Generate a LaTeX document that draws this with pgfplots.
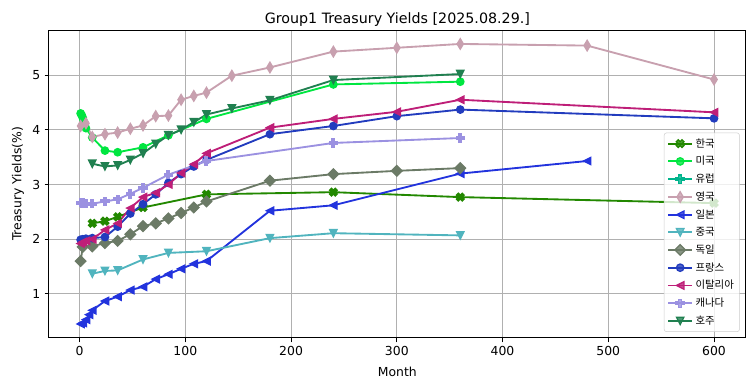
\documentclass[border=0pt]{standalone}
\usepackage{fontspec}
\setmainfont{DejaVu Sans}
\newfontfamily\kr{Noto Sans CJK KR}
\usepackage{pgfplots}
\pgfplotsset{compat=1.18}

\pgfdeclareplotmark{mP}{%
  \pgfpathmoveto{\pgfpoint{-\pgfplotmarksize}{-0.34\pgfplotmarksize}}%
  \pgfpathlineto{\pgfpoint{-0.34\pgfplotmarksize}{-0.34\pgfplotmarksize}}%
  \pgfpathlineto{\pgfpoint{-0.34\pgfplotmarksize}{-\pgfplotmarksize}}%
  \pgfpathlineto{\pgfpoint{0.34\pgfplotmarksize}{-\pgfplotmarksize}}%
  \pgfpathlineto{\pgfpoint{0.34\pgfplotmarksize}{-0.34\pgfplotmarksize}}%
  \pgfpathlineto{\pgfpoint{\pgfplotmarksize}{-0.34\pgfplotmarksize}}%
  \pgfpathlineto{\pgfpoint{\pgfplotmarksize}{0.34\pgfplotmarksize}}%
  \pgfpathlineto{\pgfpoint{0.34\pgfplotmarksize}{0.34\pgfplotmarksize}}%
  \pgfpathlineto{\pgfpoint{0.34\pgfplotmarksize}{\pgfplotmarksize}}%
  \pgfpathlineto{\pgfpoint{-0.34\pgfplotmarksize}{\pgfplotmarksize}}%
  \pgfpathlineto{\pgfpoint{-0.34\pgfplotmarksize}{0.34\pgfplotmarksize}}%
  \pgfpathlineto{\pgfpoint{-\pgfplotmarksize}{0.34\pgfplotmarksize}}%
  \pgfpathclose\pgfusepathqfillstroke}
\pgfdeclareplotmark{mX}{%
  \pgftransformrotate{45}%
  \pgfpathmoveto{\pgfpoint{-\pgfplotmarksize}{-0.34\pgfplotmarksize}}%
  \pgfpathlineto{\pgfpoint{-0.34\pgfplotmarksize}{-0.34\pgfplotmarksize}}%
  \pgfpathlineto{\pgfpoint{-0.34\pgfplotmarksize}{-\pgfplotmarksize}}%
  \pgfpathlineto{\pgfpoint{0.34\pgfplotmarksize}{-\pgfplotmarksize}}%
  \pgfpathlineto{\pgfpoint{0.34\pgfplotmarksize}{-0.34\pgfplotmarksize}}%
  \pgfpathlineto{\pgfpoint{\pgfplotmarksize}{-0.34\pgfplotmarksize}}%
  \pgfpathlineto{\pgfpoint{\pgfplotmarksize}{0.34\pgfplotmarksize}}%
  \pgfpathlineto{\pgfpoint{0.34\pgfplotmarksize}{0.34\pgfplotmarksize}}%
  \pgfpathlineto{\pgfpoint{0.34\pgfplotmarksize}{\pgfplotmarksize}}%
  \pgfpathlineto{\pgfpoint{-0.34\pgfplotmarksize}{\pgfplotmarksize}}%
  \pgfpathlineto{\pgfpoint{-0.34\pgfplotmarksize}{0.34\pgfplotmarksize}}%
  \pgfpathlineto{\pgfpoint{-\pgfplotmarksize}{0.34\pgfplotmarksize}}%
  \pgfpathclose\pgfusepathqfillstroke}
\pgfdeclareplotmark{mDia}{%
  \pgfpathmoveto{\pgfpoint{0pt}{\pgfplotmarksize}}%
  \pgfpathlineto{\pgfpoint{\pgfplotmarksize}{0pt}}%
  \pgfpathlineto{\pgfpoint{0pt}{-\pgfplotmarksize}}%
  \pgfpathlineto{\pgfpoint{-\pgfplotmarksize}{0pt}}%
  \pgfpathclose\pgfusepathqfillstroke}
\pgfdeclareplotmark{mThin}{%
  \pgfpathmoveto{\pgfpoint{0pt}{\pgfplotmarksize}}%
  \pgfpathlineto{\pgfpoint{0.6\pgfplotmarksize}{0pt}}%
  \pgfpathlineto{\pgfpoint{0pt}{-\pgfplotmarksize}}%
  \pgfpathlineto{\pgfpoint{-0.6\pgfplotmarksize}{0pt}}%
  \pgfpathclose\pgfusepathqfillstroke}
\pgfdeclareplotmark{mDown}{%
  \pgfpathmoveto{\pgfpoint{0pt}{-\pgfplotmarksize}}%
  \pgfpathlineto{\pgfpoint{\pgfplotmarksize}{\pgfplotmarksize}}%
  \pgfpathlineto{\pgfpoint{-\pgfplotmarksize}{\pgfplotmarksize}}%
  \pgfpathclose\pgfusepathqfillstroke}
\pgfdeclareplotmark{mLeft}{%
  \pgfpathmoveto{\pgfpoint{-\pgfplotmarksize}{0pt}}%
  \pgfpathlineto{\pgfpoint{\pgfplotmarksize}{\pgfplotmarksize}}%
  \pgfpathlineto{\pgfpoint{\pgfplotmarksize}{-\pgfplotmarksize}}%
  \pgfpathclose\pgfusepathqfillstroke}

\definecolor{cKR}{RGB}{34,136,0}
\definecolor{cUS}{RGB}{0,230,64}
\definecolor{cEU}{RGB}{0,180,140}
\definecolor{cUK}{RGB}{200,160,175}
\definecolor{cJP}{RGB}{34,51,221}
\definecolor{cCN}{RGB}{80,180,190}
\definecolor{cDE}{RGB}{107,122,102}
\definecolor{cFR}{RGB}{34,60,190}
\definecolor{cIT}{RGB}{190,30,120}
\definecolor{cCA}{RGB}{155,145,225}
\definecolor{cAU}{RGB}{32,128,80}

\begin{document}
\begin{tikzpicture}
\path[use as bounding box] (-39.5pt,-42.7pt) rectangle (569.5pt,272.6pt);
\begin{axis}[
  at={(0,0)}, anchor=south west,
  scale only axis, width=562pt, height=248.4pt,
  xmin=-28.95, xmax=629.95, ymin=0.195, ymax=5.825,
  xtick={0,100,...,600}, ytick={1,2,3,4,5},
  /pgf/number format/assume math mode=true,
  grid=major, grid style={color=black!31, line width=0.8pt},
  axis line style={line width=0.8pt},
  tick align=outside, tick pos=left, major tick length=3.5pt,
  every tick/.style={black, line width=0.8pt},
  ticklabel style={font=\fontsize{10}{12}\selectfont},
  label style={font=\fontsize{10}{12}\selectfont},
  xlabel style={yshift=-2pt},
  title={Group1 Treasury Yields [2025.08.29.]},
  title style={font=\fontsize{11.5}{14}\selectfont, at={(0.5,1)}, anchor=south, inner sep=0pt, yshift=-3pt},
  xlabel={Month}, ylabel={Treasury Yields(\%)},
  every axis plot/.append style={line width=1.5pt},
  legend cell align=left,
  legend image code/.code={\draw[mark repeat=2,mark phase=2,#1] plot coordinates {(0cm,0cm) (0.34cm,0cm) (0.68cm,0cm)};},
  legend style={at={(0.9914,0.0195)}, anchor=south east, draw=black!20, fill=white, fill opacity=0.8, text opacity=1, rounded corners=2pt, font=\kr\fontsize{8.4}{10}\selectfont, row sep=1.9pt, inner sep=2.5pt},
]
\addplot[color=cKR, mark=mX, mark size=3.3pt, mark options={solid,line width=1pt}] coordinates {(12,2.29)(24,2.33)(36,2.41)(60,2.58)(120,2.82)(240,2.86)(360,2.77)(600,2.66)};
\addlegendentry{한국}
\addplot[color=cUS, mark=*, mark size=3pt, mark options={solid,line width=1pt}] coordinates {(1,4.30)(2,4.27)(3,4.22)(4,4.15)(6,4.03)(12,3.86)(24,3.62)(36,3.59)(60,3.68)(84,3.90)(120,4.20)(240,4.83)(360,4.88)};
\addlegendentry{미국}
\addlegendimage{color=cEU, line width=1.5pt, mark=mP, mark size=3.3pt, mark options={solid,line width=1pt}}
\addlegendentry{유럽}
\addplot[color=cUK, mark=mThin, mark size=4.3pt, mark options={solid,line width=1pt}] coordinates {(1,4.07)(6,4.12)(12,3.87)(24,3.92)(36,3.95)(48,4.02)(60,4.08)(72,4.25)(84,4.26)(96,4.55)(108,4.62)(120,4.68)(144,4.99)(180,5.14)(240,5.43)(300,5.50)(360,5.57)(480,5.54)(600,4.92)};
\addlegendentry{영국}
\addplot[color=cJP, mark=mLeft, mark size=3pt, mark options={solid,line width=1pt}] coordinates {(1,0.45)(3,0.47)(6,0.53)(9,0.62)(12,0.70)(24,0.87)(36,0.95)(48,1.07)(60,1.13)(72,1.27)(84,1.36)(96,1.46)(108,1.55)(120,1.60)(180,2.52)(240,2.62)(360,3.20)(480,3.43)};
\addlegendentry{일본}
\addplot[color=cCN, mark=mDown, mark size=3pt, mark options={solid,line width=1pt}] coordinates {(12,1.37)(24,1.42)(36,1.43)(60,1.63)(84,1.75)(120,1.78)(180,2.02)(240,2.11)(360,2.07)};
\addlegendentry{중국}
\addplot[color=cDE, mark=mDia, mark size=4.3pt, mark options={solid,line width=1pt}] coordinates {(1,1.60)(3,1.86)(12,1.87)(24,1.93)(36,1.97)(48,2.09)(60,2.24)(72,2.29)(84,2.38)(96,2.48)(108,2.58)(120,2.69)(180,3.07)(240,3.19)(300,3.25)(360,3.30)};
\addlegendentry{독일}
\addplot[color=cFR, mark=*, mark size=3pt, mark options={solid,line width=1pt}] coordinates {(1,1.99)(3,2.00)(6,2.01)(12,2.02)(24,2.04)(36,2.23)(48,2.47)(60,2.64)(72,2.82)(84,3.03)(96,3.19)(108,3.33)(120,3.45)(180,3.92)(240,4.07)(300,4.25)(360,4.37)(600,4.21)};
\addlegendentry{프랑스}
\addplot[color=cIT, mark=mLeft, mark size=3pt, mark options={solid,line width=1pt}] coordinates {(1,1.92)(3,1.95)(6,1.97)(12,2.00)(24,2.17)(36,2.29)(48,2.57)(60,2.77)(72,2.85)(84,3.00)(96,3.21)(108,3.37)(120,3.57)(180,4.04)(240,4.20)(300,4.33)(360,4.55)(600,4.32)};
\addlegendentry{이탈리아}
\addplot[color=cCA, mark=mP, mark size=3.3pt, mark options={solid,line width=1pt}] coordinates {(1,2.67)(2,2.66)(3,2.66)(6,2.65)(12,2.65)(24,2.69)(36,2.73)(48,2.83)(60,2.94)(84,3.18)(120,3.43)(240,3.76)(360,3.85)};
\addlegendentry{캐나다}
\addplot[color=cAU, mark=mDown, mark size=3pt, mark options={solid,line width=1pt}] coordinates {(12,3.38)(24,3.33)(36,3.35)(48,3.45)(60,3.57)(72,3.74)(84,3.90)(96,4.00)(108,4.14)(120,4.28)(144,4.39)(180,4.54)(240,4.91)(360,5.02)};
\addlegendentry{호주}
\end{axis}
\end{tikzpicture}
\end{document}
